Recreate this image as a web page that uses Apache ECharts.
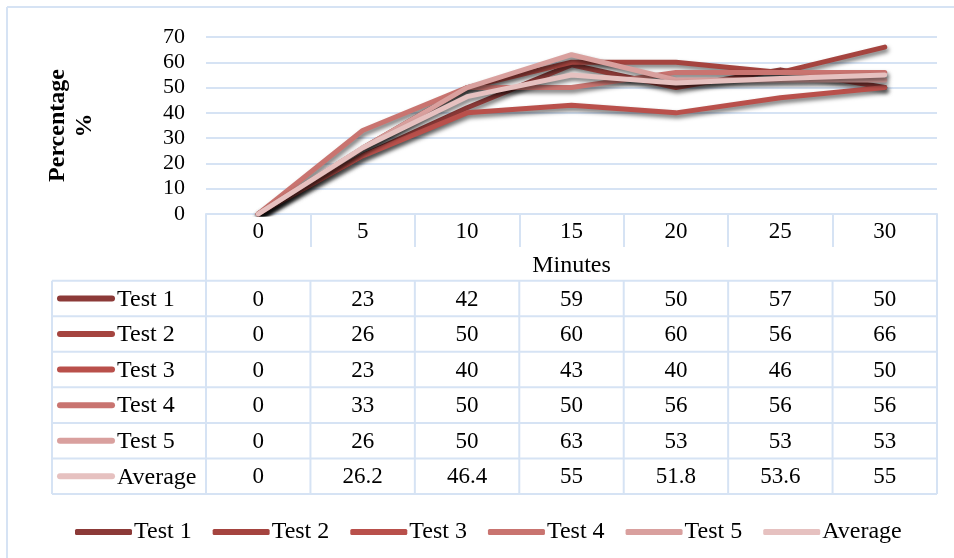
<!DOCTYPE html>
<html>
<head>
<meta charset="utf-8">
<script src="https://cdn.jsdelivr.net/npm/echarts@6/dist/echarts.min.js"></script>
<style>html,body{margin:0;padding:0;background:#fff}#c{width:954px;height:558px}</style>
</head>
<body>
<div id="c"></div>
<script>
const categories = ['0', '5', '10', '15', '20', '25', '30'];
const seriesNames = ['Test 1', 'Test 2', 'Test 3', 'Test 4', 'Test 5', 'Average'];
const test1 = [0, 23, 42, 59, 50, 57, 50];
const test2 = [0, 26, 50, 60, 60, 56, 66];
const test3 = [0, 23, 40, 43, 40, 46, 50];
const test4 = [0, 33, 50, 50, 56, 56, 56];
const test5 = [0, 26, 50, 63, 53, 53, 53];
const average = [0, 26.2, 46.4, 55, 51.8, 53.6, 55];
const yTicks = [0, 10, 20, 30, 40, 50, 60, 70];

const allValues = [test1, test2, test3, test4, test5, average];
const colors = ['#8c3a38', '#a5443f', '#b9504b', '#c97470', '#d9a09e', '#e6c1c0'];
const FONT = '"Liberation Serif", "Times New Roman", serif';
const GRIDC = '#d6e3f4';

const chart = echarts.init(document.getElementById('c'));
const option = {
  animation: false,
  backgroundColor: '#fff',
  grid: { left: 206, right: 17, top: 37, bottom: 344 },
  legend: {
    data: seriesNames,
    left: 70, top: 515,
    icon: 'roundRect',
    itemWidth: 57, itemHeight: 6, itemGap: 21,
    textStyle: { fontFamily: FONT, fontSize: 24, color: '#000', padding: [0, 0, 0, -3] }
  },
  xAxis: {
    type: 'category',
    data: categories,
    boundaryGap: true,
    name: 'Minutes',
    nameLocation: 'middle',
    nameGap: 40,
    nameTextStyle: { fontFamily: FONT, fontSize: 24, color: '#000' },
    axisLine: { lineStyle: { color: GRIDC, width: 2 } },
    axisTick: { show: true, length: 33, interval: 0, lineStyle: { color: GRIDC, width: 2 } },
    axisLabel: { margin: 6, fontFamily: FONT, fontSize: 23, color: '#000', interval: 0 }
  },
  yAxis: {
    type: 'value',
    min: yTicks[0], max: yTicks[yTicks.length - 1], interval: 10,
    name: 'Percentage\n%',
    nameLocation: 'middle',
    nameRotate: 90,
    nameGap: 108,
    nameTextStyle: { fontFamily: FONT, fontSize: 24, fontWeight: 'bold', color: '#000', lineHeight: 27 },
    axisLine: { show: false },
    axisTick: { show: false },
    axisLabel: { margin: 21, fontFamily: FONT, fontSize: 22, color: '#000' },
    splitLine: { lineStyle: { color: GRIDC, width: 2 } }
  },
  series: seriesNames.map((n, i) => ({
    name: n,
    type: 'line',
    data: allValues[i],
    symbol: 'none',
    color: colors[i],
    lineStyle: {
      width: 5, color: colors[i], cap: 'round', join: 'round',
      shadowColor: 'rgba(0,0,0,0.55)', shadowBlur: 4, shadowOffsetX: 1.5, shadowOffsetY: 3
    },
    z: 2 + i
  }))
};
chart.setOption(option);

// Data table drawn below the axis, aligned to the category scale
const centers = categories.map((c, i) => chart.convertToPixel({ xAxisIndex: 0 }, i));
const band = centers[1] - centers[0];
const plotL = centers[0] - band / 2;
const plotR = centers[centers.length - 1] + band / 2;
const axisY = chart.convertToPixel({ yAxisIndex: 0 }, 0);
const headerBottom = axisY + 66.7;
const rowH = 35.55;
const tableL = 52;
const tableBottom = headerBottom + rowH * seriesNames.length;

const g = [];
function line(x1, y1, x2, y2) {
  g.push({ type: 'line', shape: { x1, y1, x2, y2 }, style: { stroke: GRIDC, lineWidth: 2 }, silent: true, z: 1 });
}
// outer frame (top and left edges)
line(7, 7, 954, 7);
line(7, 7, 7, 558);
// table horizontal lines
for (let r = 0; r <= seriesNames.length; r++) {
  const y = headerBottom + r * rowH;
  line(tableL, y, plotR, y);
}
// vertical lines
line(tableL, headerBottom, tableL, tableBottom);
line(plotL, axisY, plotL, tableBottom);
line(plotR, axisY, plotR, tableBottom);
for (let i = 1; i < categories.length; i++) {
  const x = centers[i] - band / 2;
  line(x, headerBottom, x, tableBottom);
}
// rows
seriesNames.forEach((n, r) => {
  const cy = headerBottom + r * rowH + rowH / 2;
  g.push({ type: 'line', shape: { x1: 60, y1: cy, x2: 112, y2: cy },
    style: { stroke: colors[r], lineWidth: 6, lineCap: 'round' }, silent: true, z: 3 });
  g.push({ type: 'text', x: 117, y: cy + 1, style: { text: n, font: '24px ' + FONT, fill: '#000', textVerticalAlign: 'middle', textAlign: 'left' }, silent: true, z: 3 });
  allValues[r].forEach((v, i) => {
    g.push({ type: 'text', x: centers[i], y: cy + 1, style: { text: String(v), font: '23px ' + FONT, fill: '#000', textVerticalAlign: 'middle', textAlign: 'center' }, silent: true, z: 3 });
  });
});
chart.setOption({ graphic: { elements: g } });
</script>
</body>
</html>
